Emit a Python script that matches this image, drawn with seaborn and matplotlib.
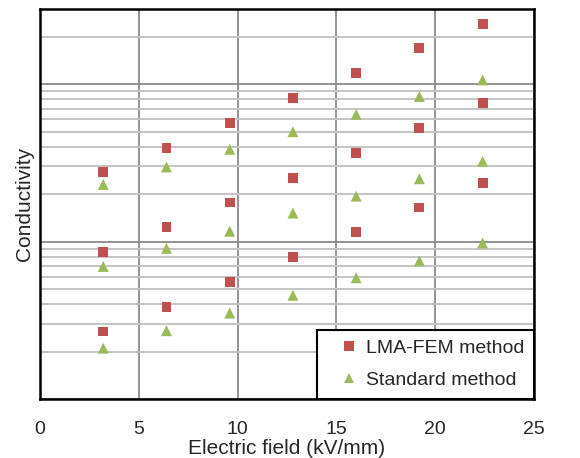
import pandas as pd
import seaborn as sns
import matplotlib.pyplot as plt
from matplotlib.ticker import LogLocator, NullFormatter

# electric field (kV/mm) and conductivity values (arbitrary units, log scale)
field = [3.2, 6.4, 9.6, 12.8, 16.0, 19.2, 22.4]
lma_high = [27.5, 39.5, 56.9, 81.7, 117.5, 168.7, 242.1]
lma_mid = [8.59, 12.33, 17.70, 25.47, 36.64, 52.84, 75.86]
lma_low = [2.685, 3.846, 5.521, 7.943, 11.46, 16.44, 23.66]
std_high = [23.07, 29.79, 38.55, 49.89, 64.27, 83.37, 106.4]
std_mid = [6.95, 9.06, 11.64, 15.17, 19.45, 25.06, 32.36]
std_low = [2.104, 2.716, 3.516, 4.560, 5.888, 7.551, 9.795]
methods = ["LMA-FEM method", "Standard method"]
x_ticks = [0, 5, 10, 15, 20, 25]

rows = []
for m, groups in zip(methods, [[lma_high, lma_mid, lma_low], [std_high, std_mid, std_low]]):
    for g in groups:
        for x, y in zip(field, g):
            rows.append({"field": x, "conductivity": y, "method": m})
df = pd.DataFrame(rows)

sns.set_style("white")
plt.rcParams['font.family'] = ['Liberation Sans', 'DejaVu Sans']

fig = plt.figure(figsize=(5.8, 4.58), dpi=100)
ax = fig.add_axes([0.069, 0.1288, 0.8517, 0.8515])

sns.scatterplot(data=df, x="field", y="conductivity", hue="method", style="method", size="method",
                hue_order=methods, style_order=methods, size_order=methods,
                palette={"LMA-FEM method": "#c0504d", "Standard method": "#9bbb59"},
                markers={"LMA-FEM method": "s", "Standard method": "^"},
                sizes={"LMA-FEM method": 50, "Standard method": 62},
                linewidth=0, ax=ax, zorder=3)

ax.set_yscale("log")
ax.set_ylim(1, 300)
ax.set_xlim(0, 25)
ax.set_xticks(x_ticks)
ax.yaxis.set_minor_locator(LogLocator(base=10, subs=range(2, 10), numticks=20))
ax.yaxis.set_minor_formatter(NullFormatter())
ax.grid(which="major", axis="both", color="#8a8a8a", linewidth=1.3)
ax.grid(which="minor", axis="y", color="#c4c4c4", linewidth=1.4)
ax.set_axisbelow(True)
ax.tick_params(axis="y", which="both", left=False, labelleft=False)
ax.tick_params(axis="x", which="both", bottom=False, labelsize=14, pad=12)
for sp in ax.spines.values():
    sp.set_color("black")
    sp.set_linewidth(1.8)

ax.set_xlabel("Electric field (kV/mm)", fontsize=15, labelpad=1)
ax.set_ylabel("Conductivity", fontsize=15, labelpad=4)

ax.legend(loc="lower right", borderaxespad=0, frameon=True, fancybox=False,
          edgecolor="black", framealpha=1, fontsize=14, borderpad=0.5,
          handlelength=2.3, handletextpad=-0.3, labelspacing=0.75, title=None)
ax.get_legend().get_frame().set_linewidth(1.5)

plt.savefig("out.png", dpi=100)
plt.close()
